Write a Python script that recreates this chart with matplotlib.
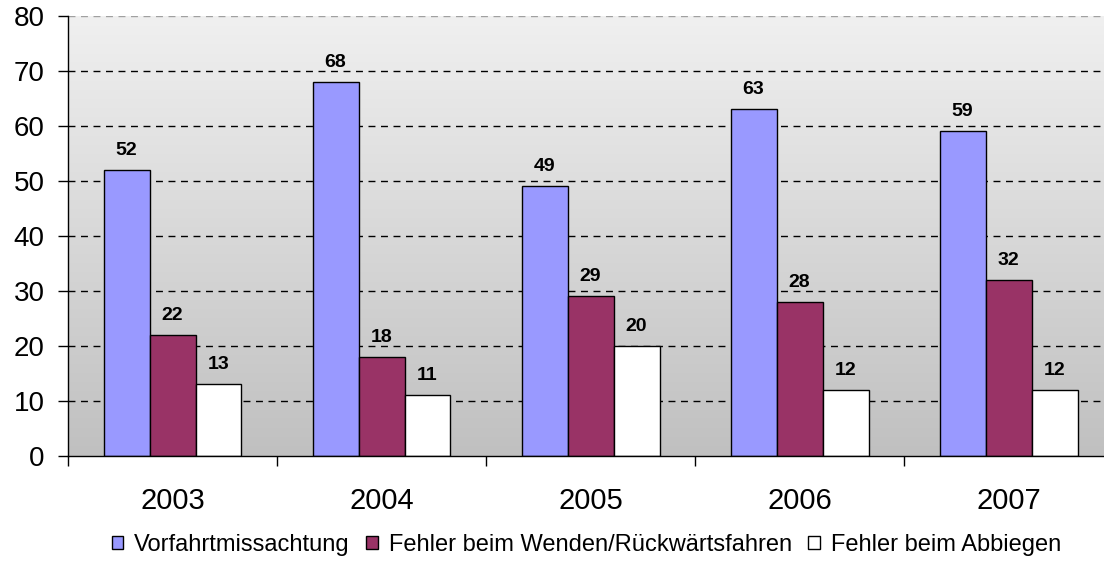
import numpy as np
import matplotlib.pyplot as plt
from matplotlib.colors import LinearSegmentedColormap

plt.rcParams['font.family'] = ['Liberation Sans', 'DejaVu Sans']

# Daten
jahre = ['2003', '2004', '2005', '2006', '2007']
vorfahrt = [52, 68, 49, 63, 59]
wenden = [22, 18, 29, 28, 32]
abbiegen = [13, 11, 20, 12, 12]

serien = [
    ('Vorfahrtmissachtung', vorfahrt, '#9999FF'),
    ('Fehler beim Wenden/Rückwärtsfahren', wenden, '#993366'),
    ('Fehler beim Abbiegen', abbiegen, '#FFFFFF'),
]

fig = plt.figure(figsize=(11.04, 5.61), dpi=100)
ax = fig.add_axes([0.0616, 0.1872, 0.9466, 0.7843])

x = np.arange(len(jahre))
breite = 0.22

# Hintergrund mit Farbverlauf (oben hell, unten grau)
cmap = LinearSegmentedColormap.from_list('bg', ['#C0C0C0', '#F0F0F0'])
grad = np.linspace(0, 1, 256).reshape(-1, 1)
ax.imshow(grad, extent=[-0.5, len(jahre) - 0.5, 0, 80], aspect='auto',
          cmap=cmap, origin='lower', zorder=0)

# Gitterlinien
for y in range(10, 80, 10):
    ax.axhline(y, color='black', linestyle=(0, (5, 4)), linewidth=1, zorder=1)
ax.axhline(80, color='#A0A0A0', linestyle=(0, (5, 4)), linewidth=1, zorder=1)

for i, (name, werte, farbe) in enumerate(serien):
    pos = x + (i - 1) * breite
    bars = ax.bar(pos, werte, breite, color=farbe, edgecolor='black',
                  linewidth=1, label=name, zorder=2)
    for b, v in zip(bars, werte):
        ax.annotate(str(v), (b.get_x() + b.get_width() / 2, v),
                    xytext=(0, 11), textcoords='offset points',
                    ha='center', va='baseline', fontsize=14, fontweight='bold')

ax.set_xlim(-0.5, len(jahre) - 0.5)
ax.set_ylim(0, 80)
ax.set_yticks(range(0, 81, 10))
ax.tick_params(axis='y', labelsize=20, length=7, width=1, pad=10)

# Striche zwischen den Kategorien, Beschriftung in der Mitte
ax.set_xticks(np.arange(-0.5, len(jahre), 1))
ax.set_xticklabels([])
ax.tick_params(axis='x', which='major', length=7, width=1)
ax.set_xticks(x, minor=True)
ax.set_xticklabels(jahre, minor=True)
ax.tick_params(axis='x', which='minor', length=0, labelsize=21, pad=22.5)

for s in ['top', 'right']:
    ax.spines[s].set_visible(False)
ax.spines['left'].set_linewidth(1)
ax.spines['bottom'].set_linewidth(1)
ax.spines['left'].set_zorder(3)
ax.spines['bottom'].set_zorder(3)

fig.legend(loc='center', bbox_to_anchor=(0.531, 0.0285), ncol=3, frameon=False,
           fontsize=17, handlelength=0.5, handleheight=0.5,
           handletextpad=0.45, columnspacing=0.7, borderpad=0)

plt.savefig('out.png', dpi=100)
plt.close()
